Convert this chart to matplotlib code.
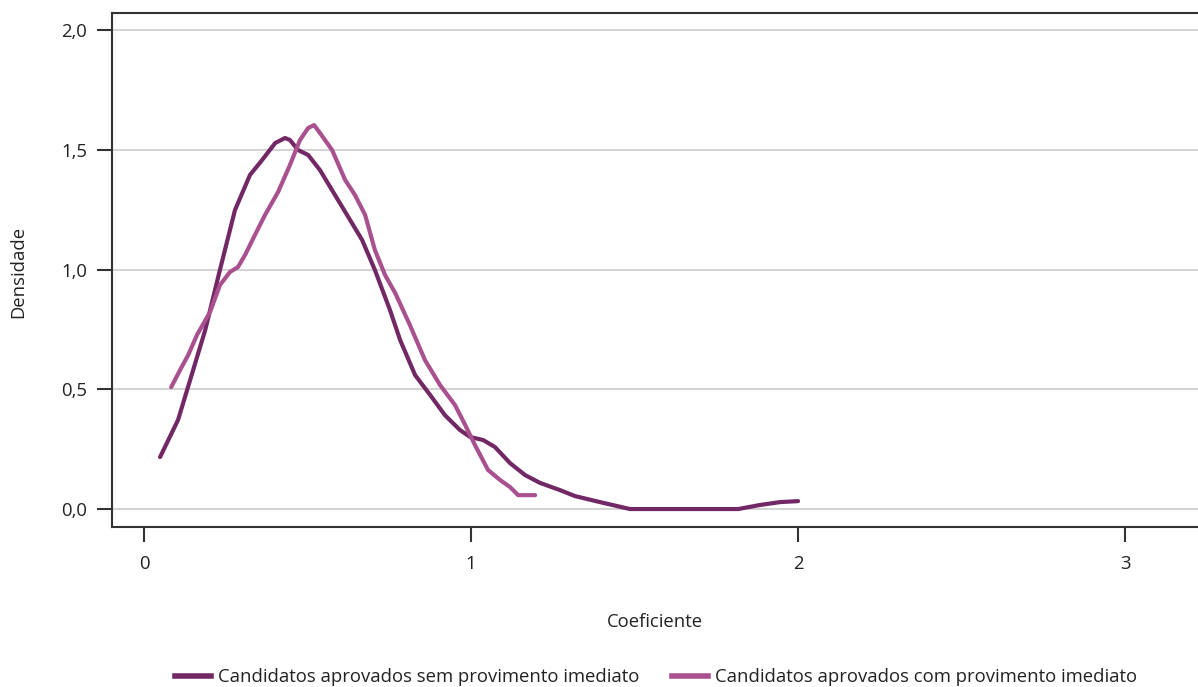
import matplotlib
matplotlib.use("Agg")
import matplotlib.pyplot as plt
from matplotlib.lines import Line2D

plt.rcParams['font.family'] = ['Open Sans', 'DejaVu Sans']

# Data
sem_x = [0.049, 0.104, 0.141, 0.187, 0.232, 0.278, 0.324, 0.361, 0.401, 0.431, 0.446,
         0.471, 0.502, 0.538, 0.584, 0.630, 0.667, 0.706, 0.752, 0.783, 0.829, 0.875,
         0.920, 0.966, 0.997, 1.037, 1.073, 1.119, 1.165, 1.211, 1.272, 1.318, 1.394,
         1.486, 1.700, 1.817, 1.884, 1.945, 2.0]
sem_y = [0.217, 0.372, 0.539, 0.747, 0.998, 1.248, 1.395, 1.457, 1.528, 1.549, 1.541,
         1.499, 1.478, 1.415, 1.311, 1.207, 1.123, 0.998, 0.831, 0.706, 0.559, 0.476,
         0.392, 0.330, 0.301, 0.288, 0.259, 0.192, 0.142, 0.109, 0.079, 0.054, 0.029,
         0.0, 0.0, 0.0, 0.017, 0.029, 0.033]

com_x = [0.083, 0.110, 0.135, 0.162, 0.202, 0.232, 0.263, 0.287, 0.309, 0.339, 0.370,
         0.410, 0.446, 0.477, 0.502, 0.520, 0.538, 0.575, 0.615, 0.645, 0.676, 0.706,
         0.737, 0.768, 0.813, 0.859, 0.905, 0.951, 0.982, 1.012, 1.052, 1.089, 1.119,
         1.144, 1.165, 1.196]
com_y = [0.509, 0.580, 0.643, 0.727, 0.823, 0.935, 0.990, 1.010, 1.061, 1.144, 1.228,
         1.324, 1.436, 1.541, 1.591, 1.603, 1.570, 1.499, 1.374, 1.311, 1.228, 1.081,
         0.977, 0.902, 0.768, 0.622, 0.518, 0.434, 0.351, 0.267, 0.163, 0.121, 0.092,
         0.058, 0.058, 0.058]

x_ticks = [0, 1, 2, 3]
x_ticklabels = ['0', '1', '2', '3']
y_ticks = [0.0, 0.5, 1.0, 1.5, 2.0]
y_ticklabels = ['0,0', '0,5', '1,0', '1,5', '2,0']
labels = ['Candidatos aprovados sem provimento imediato',
          'Candidatos aprovados com provimento imediato']

c_sem = '#722865'
c_com = '#a9508f'
fs = 13.3

fig = plt.figure(figsize=(11.98, 6.87), dpi=100)
ax = fig.add_axes([112/1198, 160/687, 1 - 112/1198, (527-13)/687])

ax.plot(sem_x, sem_y, color=c_sem, lw=3, solid_capstyle='round',
        solid_joinstyle='round', zorder=3)
ax.plot(com_x, com_y, color=c_com, lw=3, solid_capstyle='round',
        solid_joinstyle='round', zorder=3)

ax.set_xlim(-0.098, 3.223)
ax.set_ylim(-0.075, 2.071)
ax.set_xticks(x_ticks)
ax.set_xticklabels(x_ticklabels)
ax.set_yticks(y_ticks)
ax.set_yticklabels(y_ticklabels)
ax.yaxis.grid(True, color='#cccccc', lw=1.2)
ax.set_axisbelow(True)

for s in ['left', 'bottom', 'top']:
    ax.spines[s].set_color('#333333')
    ax.spines[s].set_linewidth(1.5)
ax.spines['right'].set_visible(False)

ax.tick_params(axis='both', direction='out', length=11, width=1.5, color='#333333',
               labelsize=fs, labelcolor='#222222')
ax.tick_params(axis='y', pad=7)
ax.tick_params(axis='x', pad=9)

ax.set_xlabel('Coeficiente', fontsize=fs, color='#222222', labelpad=29)
fig.text(18/1198, 1 - 272/687, 'Densidade', rotation=90, fontsize=fs, color='#222222',
         ha='center', va='center')

handles = [Line2D([0], [0], color=c_sem, lw=4), Line2D([0], [0], color=c_com, lw=4)]
fig.legend(handles, labels, loc='center', bbox_to_anchor=(656/1198, 1 - 677/687),
           ncol=2, frameon=False, fontsize=fs, handlelength=1.95, handletextpad=0.38,
           columnspacing=1.75, labelcolor='#222222', borderpad=0, borderaxespad=0)

fig.savefig('out.png', dpi=100)
